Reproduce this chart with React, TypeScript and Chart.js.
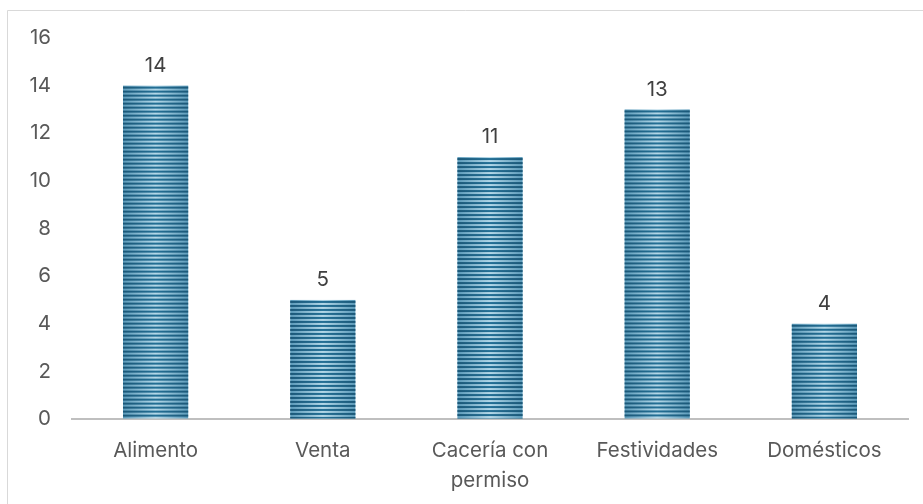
import React, { useEffect, useRef } from "react";
import { Chart, registerables } from "chart.js";

Chart.register(...registerables);

const categories: (string | string[])[] = ["Alimento", "Venta", ["Cacería con", "permiso"], "Festividades", "Domésticos"];
const values: number[] = [14, 5, 11, 13, 4];
const yTicks: number[] = [0, 2, 4, 6, 8, 10, 12, 14, 16];

const FONT = "Inter, 'Noto Sans', sans-serif";

const framePlugin = {
  id: "frame",
  beforeDraw(chart: any) {
    const ctx = chart.ctx;
    ctx.save();
    ctx.fillStyle = "#ffffff";
    ctx.fillRect(0, 0, chart.width, chart.height);
    ctx.strokeStyle = "#d9d9d9";
    ctx.lineWidth = 1;
    ctx.beginPath();
    ctx.moveTo(7.5, chart.height);
    ctx.lineTo(7.5, 10.5);
    ctx.lineTo(chart.width, 10.5);
    ctx.stroke();
    ctx.restore();
  },
};

const stripedBarsPlugin = {
  id: "stripedBars",
  afterDatasetsDraw(chart: any) {
    const ctx = chart.ctx;
    const meta = chart.getDatasetMeta(0);
    ctx.save();
    meta.data.forEach((bar: any) => {
      const { x, y, base, width } = bar.getProps(["x", "y", "base", "width"], true);
      const left = x - width / 2;
      const top = Math.min(y, base);
      const h = Math.abs(base - y);
      const g = ctx.createLinearGradient(left, 0, left + width, 0);
      g.addColorStop(0, "#5d9cbb");
      g.addColorStop(0.5, "#b4d8e8");
      g.addColorStop(1, "#5d9cbb");
      ctx.fillStyle = g;
      ctx.fillRect(left, top, width, h);
      const d = ctx.createLinearGradient(left, 0, left + width, 0);
      d.addColorStop(0, "#1b5878");
      d.addColorStop(0.5, "#236f95");
      d.addColorStop(1, "#1b5878");
      ctx.fillStyle = d;
      for (let sy = top + 1; sy < top + h; sy += 4) {
        ctx.fillRect(left, sy, width, Math.min(2, top + h - sy));
      }
    });
    ctx.restore();
  },
};

const valueLabelPlugin = {
  id: "valueLabels",
  afterDatasetsDraw(chart: any) {
    const ctx = chart.ctx;
    const meta = chart.getDatasetMeta(0);
    ctx.save();
    ctx.font = `20.5px ${FONT}`;
    ctx.fillStyle = "#404040";
    ctx.textAlign = "center";
    ctx.textBaseline = "middle";
    meta.data.forEach((bar: any, i: number) => {
      const { x, y } = bar.getProps(["x", "y"], true);
      ctx.fillText(String(values[i]), x, y - 20);
    });
    ctx.restore();
  },
};

export default function App() {
  const ref = useRef<HTMLCanvasElement | null>(null);
  useEffect(() => {
    if (!ref.current) return;
    const chart = new Chart(ref.current, {
      type: "bar",
      data: {
        labels: categories as any,
        datasets: [
          {
            data: values,
            backgroundColor: "rgba(0,0,0,0)",
            borderWidth: 0,
            categoryPercentage: 1,
            barPercentage: 0.39,
          },
        ],
      },
      options: {
        responsive: false,
        animation: false,
        events: [],
        layout: { padding: { left: 0, right: 15, top: 38, bottom: 0 } },
        plugins: { legend: { display: false }, tooltip: { enabled: false } },
        scales: {
          x: {
            grid: { display: false, drawTicks: false },
            border: { display: true, color: "#bfbfbf", width: 2 },
            ticks: {
              font: { family: FONT, size: 20.5, lineHeight: "30px" },
              color: "#595959",
              padding: 17,
              maxRotation: 0,
              autoSkip: false,
            },
            afterFit: (scale: any) => {
              scale.height = 85;
            },
          },
          y: {
            min: 0,
            max: 16,
            afterBuildTicks: (scale: any) => {
              scale.ticks = yTicks.map((v) => ({ value: v }));
            },
            grid: { display: true, color: "rgba(0,0,0,0)", drawTicks: false },
            border: { display: false },
            ticks: {
              font: { family: FONT, size: 20.5 },
              color: "#595959",
              padding: 21,
            },
            afterFit: (scale: any) => {
              scale.width = 72;
            },
          },
        },
      },
      plugins: [framePlugin, stripedBarsPlugin, valueLabelPlugin],
    });
    return () => chart.destroy();
  }, []);
  return (
    <div style={{ position: "fixed", left: 0, top: 0, width: 923, height: 504, overflow: "hidden" }}>
      <canvas ref={ref} width={923} height={504} style={{ display: "block" }} />
    </div>
  );
}
